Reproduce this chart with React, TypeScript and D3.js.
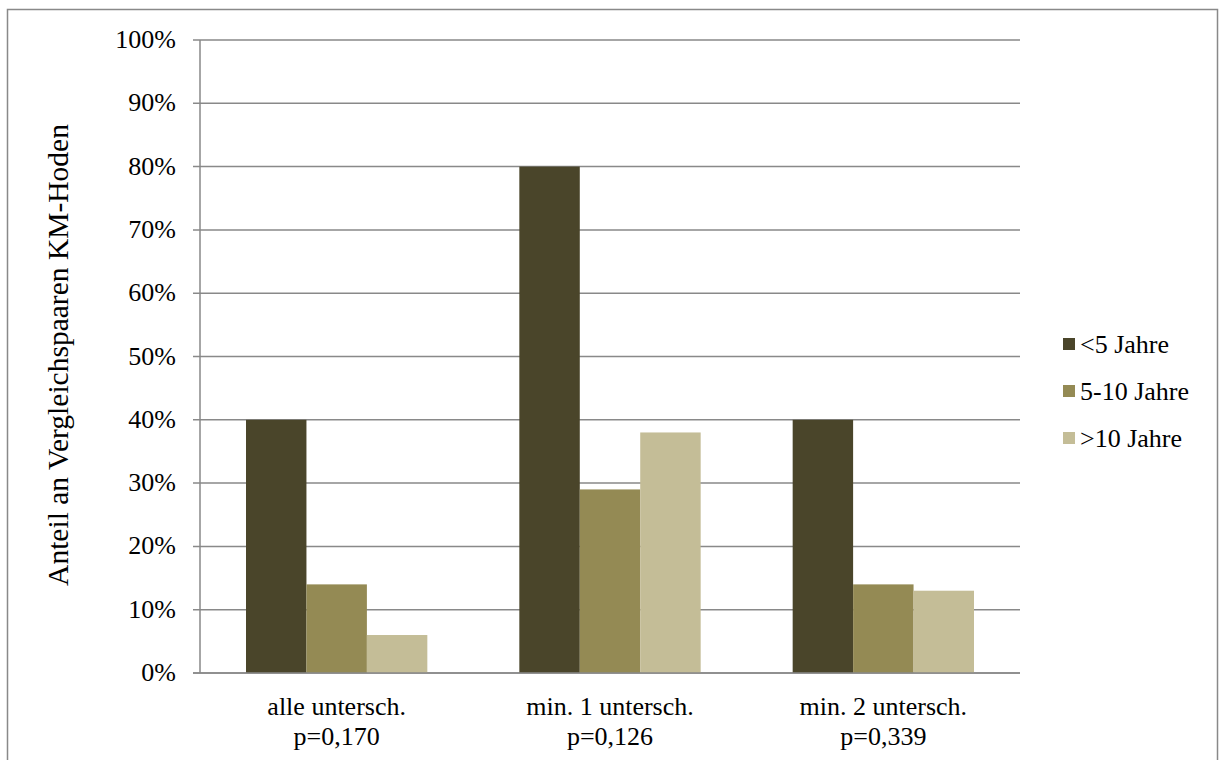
import React, { useRef, useEffect } from 'react';
import * as d3 from 'd3';

const categories = ['alle untersch.', 'min. 1 untersch.', 'min. 2 untersch.'];
const pValues = ['p=0,170', 'p=0,126', 'p=0,339'];
const seriesNames = ['<5 Jahre', '5-10 Jahre', '>10 Jahre'];
const seriesColors = ['#4A452A', '#948A54', '#C4BD97'];
const under5 = [40, 80, 40];
const from5to10 = [14, 29, 14];
const over10 = [6, 38, 13];
const yTicks = [0, 10, 20, 30, 40, 50, 60, 70, 80, 90, 100];

export default function App() {
  const svgRef = useRef<SVGSVGElement>(null);

  useEffect(() => {
    const width = 1219;
    const height = 760;
    const marginTop = 40;
    const marginLeft = 200;
    const plotRight = 1020;
    const plotBottom = 673;
    const font = '"Liberation Serif", "Times New Roman", serif';
    const fontSize = 26;
    const gridColor = '#898989';

    const series = [under5, from5to10, over10];

    const svg = d3.select(svgRef.current)
      .attr('width', width)
      .attr('height', height)
      .attr('viewBox', [0, 0, width, height].join(' '))
      .style('position', 'absolute')
      .style('left', 0)
      .style('top', 0)
      .style('font-family', font);

    svg.selectAll('*').remove();

    // chart frame
    svg.append('rect')
      .attr('x', 7.5).attr('y', 9.5)
      .attr('width', 1210).attr('height', 770)
      .attr('fill', 'white')
      .attr('stroke', gridColor)
      .attr('stroke-width', 1.5);

    const x0 = d3.scaleBand()
      .domain(categories)
      .range([marginLeft, plotRight])
      .paddingInner(0)
      .paddingOuter(0);

    const groupPad = 46;
    const x1 = d3.scaleBand()
      .domain(seriesNames)
      .range([groupPad, x0.bandwidth() - groupPad]);

    const y = d3.scaleLinear()
      .domain([0, 100])
      .range([plotBottom, marginTop]);

    // gridlines + ticks
    svg.append('g')
      .selectAll('line')
      .data(yTicks)
      .join('line')
      .attr('x1', marginLeft - 7)
      .attr('x2', plotRight)
      .attr('y1', d => y(d))
      .attr('y2', d => y(d))
      .attr('stroke', gridColor)
      .attr('stroke-width', 1.5);

    // y axis line
    svg.append('line')
      .attr('x1', marginLeft).attr('x2', marginLeft)
      .attr('y1', marginTop).attr('y2', plotBottom)
      .attr('stroke', gridColor)
      .attr('stroke-width', 1.5);

    // tick labels
    svg.append('g')
      .selectAll('text')
      .data(yTicks)
      .join('text')
      .attr('x', 176)
      .attr('y', d => y(d) + 8)
      .attr('text-anchor', 'end')
      .attr('font-size', fontSize)
      .attr('fill', 'black')
      .text(d => `${d}%`);

    // bars
    svg.append('g')
      .selectAll('g')
      .data(categories)
      .join('g')
      .attr('transform', c => `translate(${x0(c)},0)`)
      .selectAll('rect')
      .data((c, i) => series.map((s, k) => ({ name: seriesNames[k], value: s[i], color: seriesColors[k] })))
      .join('rect')
      .attr('x', d => x1(d.name)!)
      .attr('width', x1.bandwidth())
      .attr('y', d => y(d.value))
      .attr('height', d => y(0) - y(d.value))
      .attr('fill', d => d.color);

    // bottom axis line over bars
    svg.append('line')
      .attr('x1', marginLeft - 7).attr('x2', plotRight)
      .attr('y1', plotBottom).attr('y2', plotBottom)
      .attr('stroke', gridColor)
      .attr('stroke-width', 1.5);

    // category labels
    const catG = svg.append('g');
    categories.forEach((c, i) => {
      const cx = x0(c)! + x0.bandwidth() / 2;
      catG.append('text')
        .attr('x', cx).attr('y', 715)
        .attr('text-anchor', 'middle')
        .attr('font-size', fontSize)
        .text(c);
      catG.append('text')
        .attr('x', cx).attr('y', 745)
        .attr('text-anchor', 'middle')
        .attr('font-size', fontSize)
        .text(pValues[i]);
    });

    // y axis title
    svg.append('text')
      .attr('transform', 'translate(68,355) rotate(-90)')
      .attr('text-anchor', 'middle')
      .attr('font-size', 29.5)
      .text('Anteil an Vergleichspaaren KM-Hoden');

    // legend
    const legend = svg.append('g')
      .selectAll('g')
      .data(seriesNames)
      .join('g')
      .attr('transform', (d, i) => `translate(1063,${338 + i * 47})`);
    legend.append('rect')
      .attr('width', 12).attr('height', 12)
      .attr('fill', (d, i) => seriesColors[i]);
    legend.append('text')
      .attr('x', 17).attr('y', 15)
      .attr('font-size', fontSize)
      .text(d => d);
  }, []);

  return <svg ref={svgRef}></svg>;
}
